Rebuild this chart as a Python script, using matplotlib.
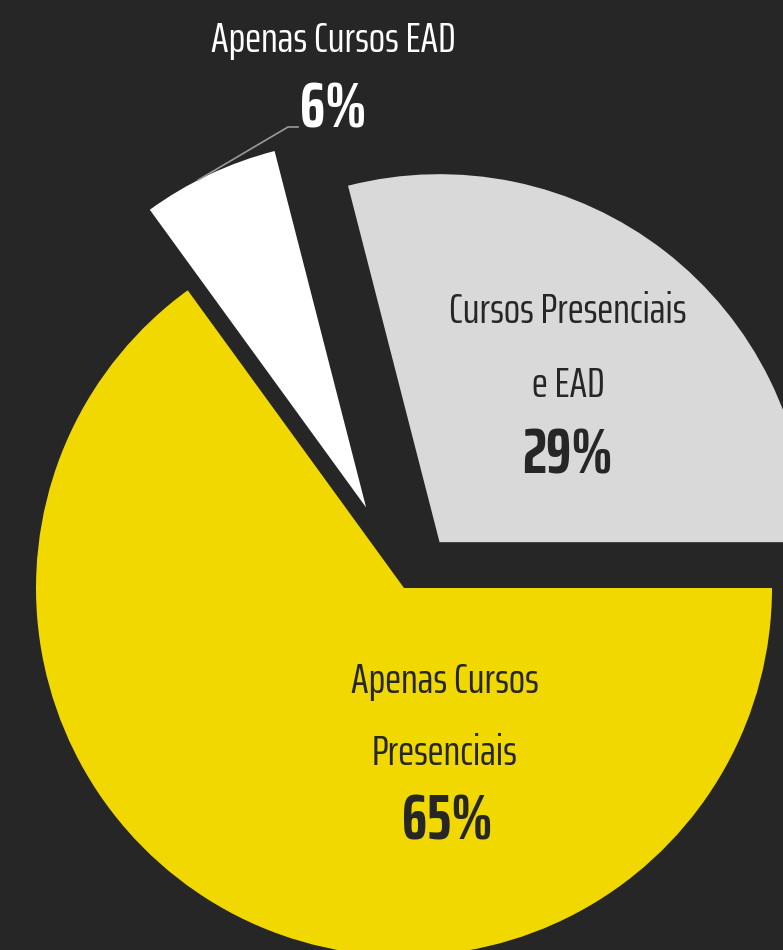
import numpy as np
import matplotlib
matplotlib.use("Agg")
import matplotlib.pyplot as plt

# Share of students by course modality
categories = ["Apenas Cursos\nPresenciais", "Apenas Cursos EAD", "Cursos Presenciais\ne EAD"]
shares = [65, 6, 29]
pct_labels = ["65%", "6%", "29%"]
colors = ["#F0D800", "#FFFFFF", "#D9D9D9"]

BG = "#262626"
DARK = "#262626"

plt.rcParams["font.family"] = ["Saira ExtraCondensed", "DejaVu Sans"]

W, H = 783, 950
fig = plt.figure(figsize=(W / 100, H / 100), dpi=100, facecolor=BG)
ax = fig.add_axes([0, 0, 1, 1])
ax.set_facecolor(BG)

# the axes works in pixel-sized units, so radius and explode are in pixels
R = 368
C = (404, H - 588)
explode = [0, 89, 58]
wedges, _ = ax.pie(shares, colors=colors, explode=explode, startangle=0,
                   counterclock=False, radius=R, center=C,
                   wedgeprops=dict(linewidth=0))

ax.set_xlim(0, W)
ax.set_ylim(0, H)
ax.set_aspect("equal")
ax.axis("off")

# leader line from the small slice to its label
w = wedges[1]
mid = np.deg2rad((w.theta1 + w.theta2) / 2 + 2)
cx, cy = w.center
p0 = (cx + w.r * np.cos(mid), cy + w.r * np.sin(mid))
ax.plot([p0[0], 288, 298], [p0[1], H - 127, H - 127], color="#9A9A9A", lw=1.2)

kw = dict(ha="center", va="baseline")
LBL = 31
PCT = 46
# EAD only (outside, white)
ax.text(333, H - 52, categories[1], color="white", fontsize=LBL, **kw)
ax.text(333, H - 128, pct_labels[1], color="white", fontsize=PCT, fontweight="bold", **kw)

# presencial + EAD (gray slice)
g1, g2 = categories[2].split("\n")
ax.text(568, H - 323, g1, color=DARK, fontsize=LBL, **kw)
ax.text(568, H - 397, g2, color=DARK, fontsize=LBL, **kw)
ax.text(568, H - 473, pct_labels[2], color=DARK, fontsize=PCT, fontweight="bold", **kw)

# presencial only (yellow slice)
y1, y2 = categories[0].split("\n")
ax.text(445, H - 693, y1, color=DARK, fontsize=LBL, **kw)
ax.text(445, H - 765, y2, color=DARK, fontsize=LBL, **kw)
ax.text(447, H - 840, pct_labels[0], color=DARK, fontsize=PCT, fontweight="bold", **kw)

fig.savefig("out.png", dpi=100, facecolor=BG)
